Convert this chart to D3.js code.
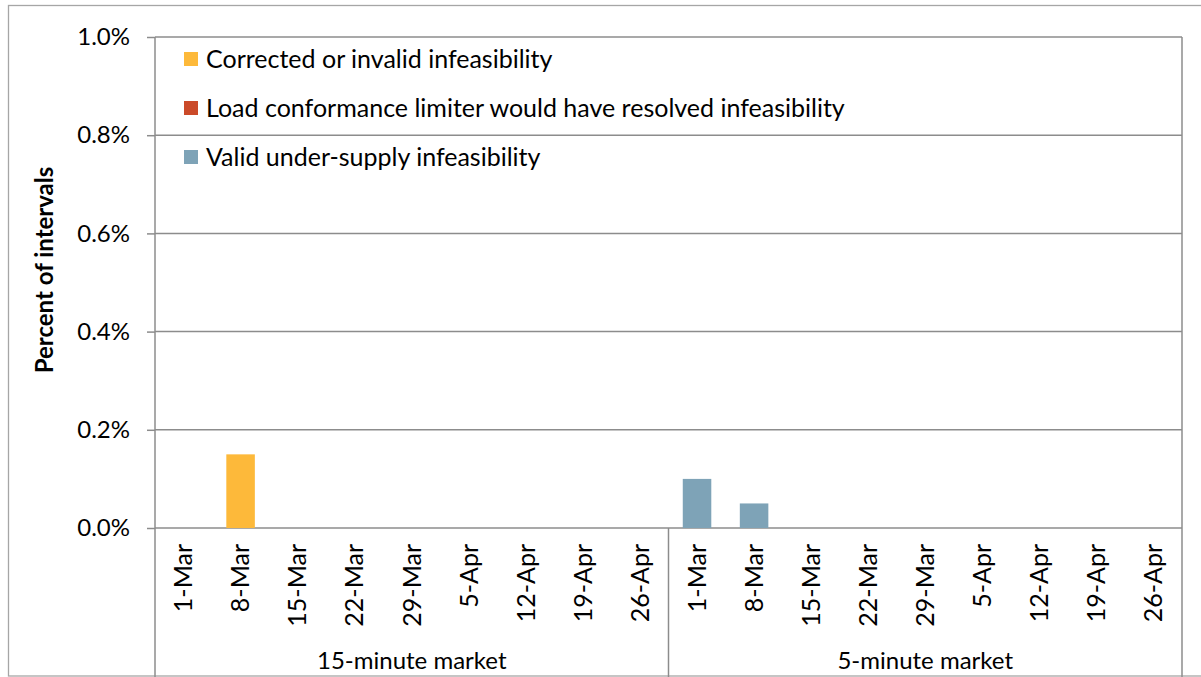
<!DOCTYPE html>
<meta charset="utf-8">
<head>
    <title>Infeasibility by week</title>
    <script src="https://d3js.org/d3.v7.min.js"></script>
</head>

<style>
body { margin: 0; background: #fff; }
text { font-family: Lato, "Open Sans", sans-serif; fill: #000; }
</style>

<body>

<svg></svg>

<script>

// weeks shown under each market
let weeks = ["1-Mar", "8-Mar", "15-Mar", "22-Mar", "29-Mar", "5-Apr", "12-Apr", "19-Apr", "26-Apr"];
let markets = ["15-minute market", "5-minute market"];

// series names and colours
let seriesNames = ["Corrected or invalid infeasibility",
                   "Load conformance limiter would have resolved infeasibility",
                   "Valid under-supply infeasibility"];
let seriesColors = ["#FDB93A", "#CB4A29", "#7EA3B7"];

// percent of intervals, 15-minute market then 5-minute market
let corrected15 = [0, 0.15, 0, 0, 0, 0, 0, 0, 0];
let corrected5  = [0, 0, 0, 0, 0, 0, 0, 0, 0];
let limiter15   = [0, 0, 0, 0, 0, 0, 0, 0, 0];
let limiter5    = [0, 0, 0, 0, 0, 0, 0, 0, 0];
let valid15     = [0, 0, 0, 0, 0, 0, 0, 0, 0];
let valid5      = [0.10, 0.05, 0, 0, 0, 0, 0, 0, 0];

let yTicks = [0, 0.2, 0.4, 0.6, 0.8, 1.0];

// build one row per bar
let rows = [];
markets.forEach(function(m, mi) {
  weeks.forEach(function(w, wi) {
    rows.push({
      key: m + "|" + w,
      market: m,
      week: w,
      s0: (mi == 0 ? corrected15 : corrected5)[wi],
      s1: (mi == 0 ? limiter15 : limiter5)[wi],
      s2: (mi == 0 ? valid15 : valid5)[wi]
    });
  });
});

let W = 1201, H = 677;
let margin = {top: 37, right: 19, bottom: 149, left: 155};
let width = W - margin.left - margin.right;
let height = H - margin.top - margin.bottom;
let fontSize = "24px";
let bigFont = "25px";

let svg = d3.select("svg").attr("width", W).attr("height", H);

// outer chart border
svg.append("rect")
  .attr("x", 8.5).attr("y", 5.5)
  .attr("width", 1210).attr("height", 670.5)
  .attr("fill", "none").attr("stroke", "#a6a6a6").attr("stroke-width", 1.3);

let g = svg.append("g")
  .attr("transform", "translate(" + margin.left + "," + margin.top + ")");

let x = d3.scaleBand()
  .domain(rows.map(function(d) { return d.key; }))
  .range([0, width])
  .paddingInner(0.5)
  .paddingOuter(0.25);

let y = d3.scaleLinear().domain([0, 1.0]).range([height, 0]);

// gridlines
g.selectAll(".grid")
  .data(yTicks)
  .enter().append("line")
  .attr("x1", 0).attr("x2", width)
  .attr("y1", function(d) { return y(d); })
  .attr("y2", function(d) { return y(d); })
  .attr("stroke", "#8c8c8c").attr("stroke-width", 1.5);

// plot area sides
g.append("line").attr("x1", 0).attr("x2", 0).attr("y1", 0).attr("y2", H - margin.top)
  .attr("stroke", "#8c8c8c").attr("stroke-width", 1.5);
g.append("line").attr("x1", width).attr("x2", width).attr("y1", 0).attr("y2", H - margin.top)
  .attr("stroke", "#8c8c8c").attr("stroke-width", 1.5);

// stacked bars
let stack = d3.stack().keys(["s0", "s1", "s2"]);
let layers = stack(rows);

g.selectAll(".layer")
  .data(layers)
  .enter().append("g")
  .attr("fill", function(d, i) { return seriesColors[i]; })
  .selectAll("rect")
  .data(function(d) { return d; })
  .enter().append("rect")
  .attr("x", function(d) { return x(d.data.key); })
  .attr("width", x.bandwidth())
  .attr("y", function(d) { return y(d[1]); })
  .attr("height", function(d) { return y(d[0]) - y(d[1]); });

// y axis
let yAxis = g.append("g")
  .call(d3.axisLeft(y).tickValues(yTicks).tickSize(8).tickPadding(17)
        .tickFormat(function(d) { return d3.format(".1f")(d) + "%"; }));
yAxis.select(".domain").remove();
yAxis.selectAll(".tick line").attr("stroke", "#8c8c8c").attr("stroke-width", 1.5);
yAxis.selectAll("text").style("font-size", fontSize).style("font-family", "Lato, sans-serif");

// y axis title
svg.append("text")
  .attr("transform", "translate(53,270) rotate(-90)")
  .attr("text-anchor", "middle")
  .style("font-size", fontSize)
  .style("font-weight", "bold")
  .text("Percent of intervals");

// week labels
let xAxis = g.append("g")
  .attr("transform", "translate(0," + height + ")")
  .call(d3.axisBottom(x).tickSize(0).tickFormat(function(k) { return k.split("|")[1]; }));
xAxis.select(".domain").remove();
xAxis.selectAll("text")
  .style("font-size", bigFont)
  .style("font-family", "Lato, sans-serif")
  .attr("transform", "rotate(-90)")
  .attr("text-anchor", "end")
  .attr("x", -16)
  .attr("y", 0)
  .attr("dy", "0.35em");

// market groups
let groupW = width / markets.length;
g.append("line")
  .attr("x1", groupW).attr("x2", groupW)
  .attr("y1", height).attr("y2", H - margin.top)
  .attr("stroke", "#8c8c8c").attr("stroke-width", 1.5);

g.selectAll(".market")
  .data(markets)
  .enter().append("text")
  .attr("x", function(d, i) { return groupW * (i + 0.5); })
  .attr("y", 632)
  .attr("text-anchor", "middle")
  .style("font-size", fontSize)
  .text(function(d) { return d; });

// legend
let legend = svg.append("g").attr("transform", "translate(184,0)");
seriesNames.forEach(function(name, i) {
  let row = legend.append("g").attr("transform", "translate(0," + (59 + i * 49) + ")");
  row.append("rect")
    .attr("x", 0).attr("y", -7)
    .attr("width", 14).attr("height", 14)
    .attr("fill", seriesColors[i]);
  row.append("text")
    .attr("x", 22).attr("dy", "0.35em")
    .style("font-size", bigFont)
    .text(name);
});

</script>

</body>
